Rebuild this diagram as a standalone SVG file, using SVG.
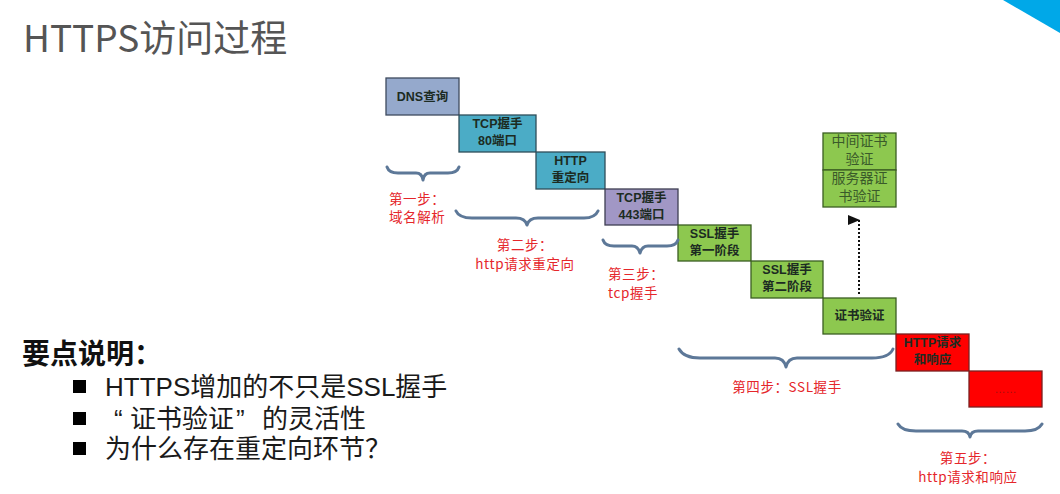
<svg xmlns="http://www.w3.org/2000/svg" width="1060" height="494" viewBox="0 0 1060 494">
<defs>
<style>
.title{font-family:"Noto Sans CJK SC","Liberation Sans",sans-serif;font-size:37px;fill:#555555}
.head{font-family:"Liberation Sans","Noto Sans CJK SC",sans-serif;font-size:28px;font-weight:bold;fill:#111111}
.bul{font-family:"Liberation Sans","Noto Sans CJK SC",sans-serif;font-size:26px;fill:#1a1a1a}
.box{stroke-width:1.3}
.lbl{font-family:"Liberation Sans","Noto Sans CJK SC",sans-serif;font-size:12.5px;font-weight:bold;fill:#1c2b22;text-anchor:middle}
.cert{font-family:"Noto Sans CJK SC","Liberation Sans",sans-serif;font-size:14px;fill:#3a5a2a;text-anchor:middle}
.step{font-family:"Noto Sans CJK SC","Liberation Sans",sans-serif;font-size:13.5px;fill:#e5262b;letter-spacing:0.6px}
.brace{fill:none;stroke:#5d7898;stroke-width:3;stroke-linecap:round;stroke-linejoin:round}
.blue{fill:#95a9cc;stroke:#3e4a5e}
.teal{fill:#4bacc6;stroke:#2e4e5a}
.lav{fill:#a197c5;stroke:#3e3e52}
.green{fill:#8dc84f;stroke:#3b5e22}
.red{fill:#ff0000;stroke:#7a2020}
</style>
<marker id="ah" markerWidth="10" markerHeight="12" refX="5" refY="11" orient="auto-start-reverse" markerUnits="userSpaceOnUse" viewBox="0 0 10 12">
<path d="M0,0 L10,0 L5,12 Z" fill="#111"/>
</marker>
</defs>
<rect width="1060" height="494" fill="#ffffff"/>
<polygon points="1003,0 1060,0 1060,33" fill="#00a8e8"/>
<text class="title" x="23" y="52">HTTPS访问过程</text>

<g id="n-dns"><rect class="box blue" x="386" y="78" width="73" height="37"/><text class="lbl" x="422.5" y="101">DNS查询</text></g>
<g id="n-tcp80"><rect class="box teal" x="459" y="115" width="77" height="37"/><text class="lbl" x="497.5" y="128">TCP握手</text><text class="lbl" x="497.5" y="145">80端口</text></g>
<g id="n-http"><rect class="box teal" x="536" y="152" width="69" height="37"/><text class="lbl" x="570.5" y="165">HTTP</text><text class="lbl" x="570.5" y="182">重定向</text></g>
<g id="n-tcp443"><rect class="box lav" x="605" y="189" width="73" height="36"/><text class="lbl" x="641.5" y="202">TCP握手</text><text class="lbl" x="641.5" y="219">443端口</text></g>
<g id="n-ssl1"><rect class="box green" x="678" y="225" width="73" height="36"/><text class="lbl" x="714.5" y="238">SSL握手</text><text class="lbl" x="714.5" y="255">第一阶段</text></g>
<g id="n-ssl2"><rect class="box green" x="751" y="261" width="72" height="37"/><text class="lbl" x="787" y="274">SSL握手</text><text class="lbl" x="787" y="291">第二阶段</text></g>
<g id="n-cert"><rect class="box green" x="823" y="298" width="73" height="36"/><text class="lbl" x="859.5" y="320">证书验证</text></g>
<g id="n-req"><rect class="box red" x="896" y="334" width="73" height="37"/><text class="lbl" x="932.5" y="347">HTTP请求</text><text class="lbl" x="932.5" y="364">和响应</text></g>
<g id="n-more"><rect class="box red" x="969" y="371" width="73" height="36"/><text x="1005.5" y="393" font-family="Liberation Sans,sans-serif" font-size="11" fill="#a01010" text-anchor="middle">……</text></g>
<g id="n-certdetail">
<rect class="box green" x="823" y="133" width="73" height="37"/>
<rect class="box green" x="823" y="170" width="73" height="37"/>
<text class="cert" x="859.5" y="146">中间证书</text><text class="cert" x="859.5" y="164">验证</text>
<text class="cert" x="859.5" y="183">服务器证</text><text class="cert" x="859.5" y="201">书验证</text>
</g>

<g id="connectors">
<line x1="859" y1="294" x2="859" y2="220" stroke="#111" stroke-width="2" stroke-dasharray="2,2" marker-end="url(#ah)"/>
</g>

<g id="braces">
<path class="brace" d="M387,167 Q389,173 398,173 L416,173 Q422,173 423,180 Q424,173 430,173 L448,173 Q457,173 459,167"/>
<path class="brace" d="M456,211 Q459,218 472,218 L516,218 Q525,218 527,225 Q529,218 538,218 L584,218 Q595,218 598,211"/>
<path class="brace" d="M603,240 Q605,246 614,246 L632,246 Q638,246 640,253 Q642,246 648,246 L667,246 Q676,246 678,240"/>
<path class="brace" d="M679,349 Q684,358 700,358 L775,358 Q784,358 786,367 Q788,358 797,358 L872,358 Q889,358 893,349"/>
<path class="brace" d="M898,424 Q902,431 916,431 L962,431 Q969,431 970,437 Q971,431 978,431 L1025,431 Q1038,431 1042,424"/>
</g>

<g id="steps">
<text class="step" x="389" y="204">第一步：</text>
<text class="step" x="389" y="222">域名解析</text>
<text class="step" x="525" y="250" text-anchor="middle">第二步：</text>
<text class="step" x="525" y="269" text-anchor="middle">http请求重定向</text>
<text class="step" x="608" y="279">第三步：</text>
<text class="step" x="608" y="298">tcp握手</text>
<text class="step" x="787" y="392" text-anchor="middle">第四步：SSL握手</text>
<text class="step" x="968" y="463" text-anchor="middle">第五步：</text>
<text class="step" x="968" y="482" text-anchor="middle">http请求和响应</text>
</g>

<g id="notes">
<text class="head" x="22" y="364">要点说明：</text>
<rect x="73" y="380" width="13" height="13" fill="#000"/>
<rect x="73" y="412" width="13" height="13" fill="#000"/>
<rect x="73" y="442" width="13" height="13" fill="#000"/>
<text class="bul" x="105" y="396">HTTPS增加的不只是SSL握手</text>
<text class="bul" y="428"><tspan x="114">“</tspan><tspan x="130">证书验证</tspan><tspan x="236">”</tspan><tspan x="262">的灵活性</tspan></text>
<text class="bul" x="105" y="458">为什么存在重定向环节？</text>
</g>
</svg>
